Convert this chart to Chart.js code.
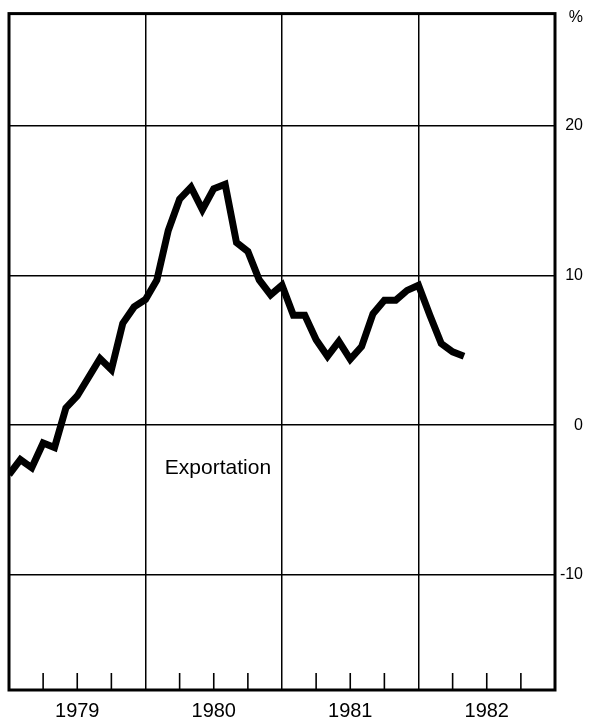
<!DOCTYPE html>
<html>
<head>
<meta charset="utf-8">
<script src="https://cdn.jsdelivr.net/npm/chart.js@4/dist/chart.umd.min.js"></script>
<style>
  html, body { margin: 0; padding: 0; background: #fff; }
  #wrap { width: 602px; height: 723px; }
</style>
</head>
<body>
<div id="wrap"><canvas id="exportChart" width="602" height="723"></canvas></div>
<script>
// monthly growth rate, Jan 1979 .. May 1982 (index = months since Jan 1979)
const exportValues = [
    -3.3, -2.3, -2.85, -1.2, -1.5, 1.15, 1.95, 3.2, 4.45, 3.7, 6.8, 7.9,
    8.4, 9.7, 13.0, 15.1, 15.9, 14.4, 15.8, 16.1, 12.2, 11.6, 9.7, 8.7,
    9.35, 7.35, 7.35, 5.7, 4.6, 5.6, 4.4, 5.25, 7.45, 8.35, 8.35, 9.0,
    9.35, 7.35, 5.45, 4.9, 4.6
];
const yearLabels = ['1979', '1980', '1981', '1982'];
const yTicks = [-10, 0, 10, 20];
const seriesLabel = 'Exportation';

const FONT = "'Liberation Sans', Arial, Helvetica, sans-serif";

// frame, inner quarterly ticks and the text labels
const decorations = {
    id: 'decorations',
    afterDraw(chart) {
        const ctx = chart.ctx;
        const area = chart.chartArea;
        const xs = chart.scales.x;
        const ys = chart.scales.y;
        ctx.save();
        ctx.strokeStyle = '#000';

        // quarterly tick marks standing up from the bottom edge
        ctx.lineWidth = 1.6;
        xs.ticks.forEach(t => {
            if (t.value % 12 === 0) return;
            const px = xs.getPixelForValue(t.value);
            ctx.beginPath();
            ctx.moveTo(px, area.bottom);
            ctx.lineTo(px, area.bottom - 17);
            ctx.stroke();
        });

        // heavy frame
        ctx.lineWidth = 3;
        ctx.strokeRect(area.left, area.top, area.right - area.left, area.bottom - area.top);

        ctx.fillStyle = '#000';
        ctx.font = '21px ' + FONT;
        ctx.textAlign = 'left';
        ctx.textBaseline = 'middle';
        ctx.fillText(seriesLabel, xs.getPixelForValue(13.7), ys.getPixelForValue(-2.9));

        ctx.font = '16px ' + FONT;
        ctx.textAlign = 'right';
        ctx.fillText('%', ys.right, area.top + 4);
        ctx.restore();
    }
};

const ctx = document.getElementById('exportChart').getContext('2d');
new Chart(ctx, {
    type: 'line',
    data: {
        datasets: [{
            label: seriesLabel,
            data: exportValues.map((v, i) => ({ x: i, y: v })),
            borderColor: '#000',
            borderWidth: 7,
            borderJoinStyle: 'miter',
            pointRadius: 0,
            tension: 0,
            fill: false
        }]
    },
    options: {
        responsive: false,
        animation: false,
        layout: { padding: { left: 9, top: 11, right: 19, bottom: 0 } },
        plugins: {
            legend: { display: false },
            tooltip: { enabled: false }
        },
        scales: {
            x: {
                type: 'linear',
                min: 0,
                max: 48,
                afterFit(scale) { scale.height = 33; },
                border: { display: false },
                grid: {
                    drawTicks: false,
                    lineWidth: 1.5,
                    color: c => (c.tick && c.tick.value % 12 === 0) ? '#000' : 'rgba(0,0,0,0)'
                },
                ticks: {
                    stepSize: 3,
                    autoSkip: false,
                    maxRotation: 0,
                    padding: 9,
                    color: '#000',
                    font: { family: FONT, size: 20 },
                    callback: v => (v % 12 === 6) ? yearLabels[(v - 6) / 12] : ''
                }
            },
            y: {
                position: 'right',
                min: -17.7,
                max: 27.5,
                afterBuildTicks(scale) { scale.ticks = yTicks.map(v => ({ value: v })); },
                afterFit(scale) { scale.width = 28; },
                border: { display: false },
                grid: {
                    drawTicks: false,
                    lineWidth: 1.5,
                    color: '#000'
                },
                ticks: {
                    crossAlign: 'far',
                    padding: 4,
                    color: '#000',
                    font: { family: FONT, size: 16 }
                }
            }
        }
    },
    plugins: [decorations]
});
</script>
</body>
</html>
